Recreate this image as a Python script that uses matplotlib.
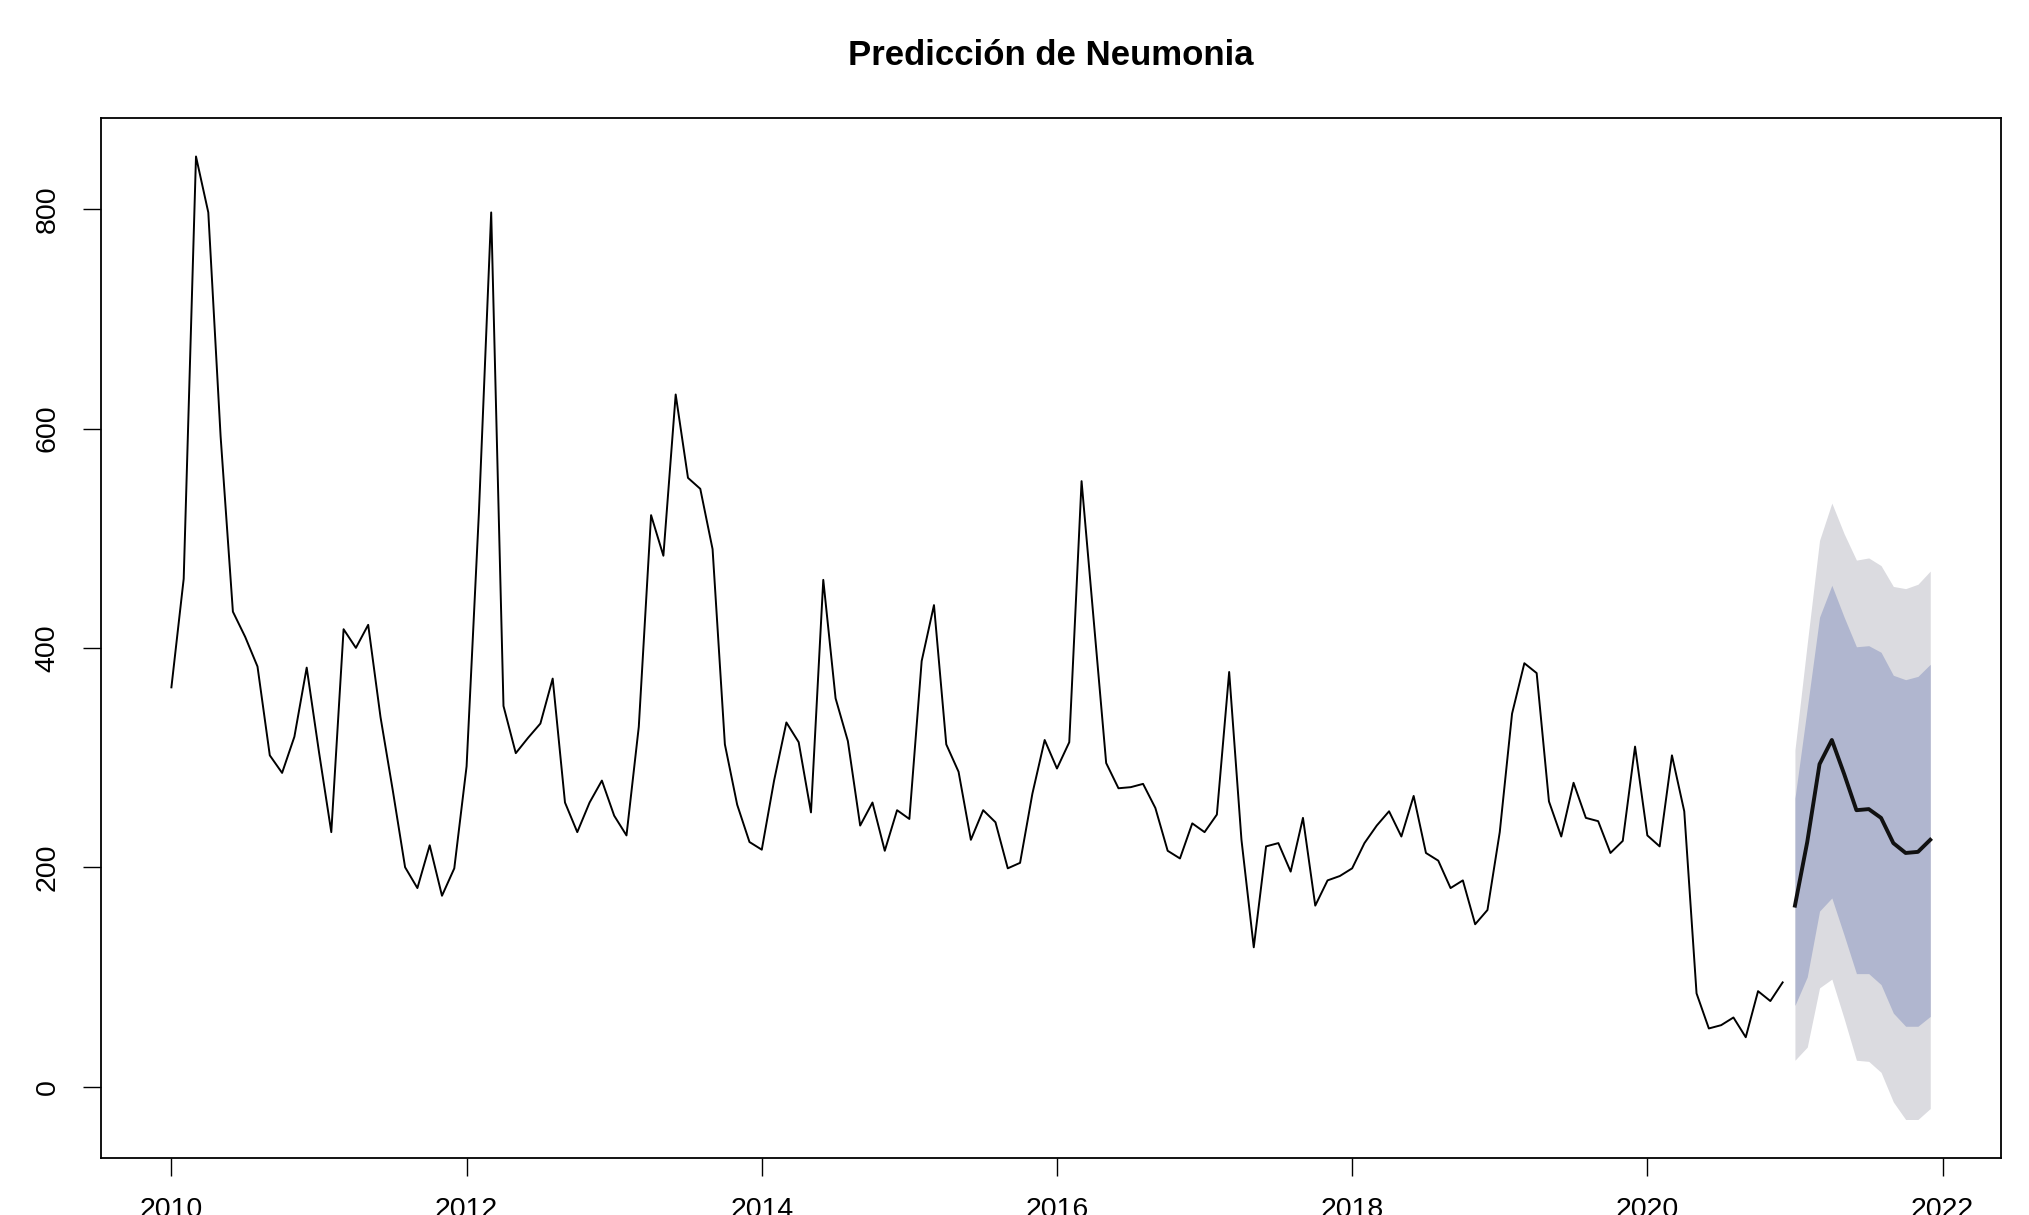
import numpy as np
import matplotlib
matplotlib.use("Agg")
import matplotlib.pyplot as plt

plt.rcParams['font.family'] = ['Liberation Sans', 'DejaVu Sans']

# Monthly observed series, Jan 2010 - Dec 2020
observed = [
    364, 463, 848, 797, 593, 433, 410, 383, 302, 286, 319, 382,
    305, 232, 417, 400, 421, 337, 270, 200, 181, 220, 174, 199,
    292, 523, 797, 347, 304, 318, 331, 372, 259, 232, 259, 279,
    247, 229, 328, 521, 484, 631, 555, 545, 490, 312, 257, 223,
    216, 279, 332, 314, 250, 462, 354, 315, 238, 259, 215, 252,
    244, 388, 439, 312, 287, 225, 252, 241, 199, 204, 267, 316,
    290, 314, 552, 424, 295, 272, 273, 276, 254, 215, 208, 240,
    232, 248, 378, 225, 127, 219, 222, 196, 245, 165, 188, 192,
    199, 222, 238, 251, 228, 265, 213, 206, 181, 188, 148, 161,
    232, 340, 386, 377, 260, 228, 277, 245, 242, 213, 224, 310,
    229, 219, 302, 251, 85, 53, 56, 63, 45, 87, 78, 95,
]

# Forecast Jan 2021 - Dec 2021
fc_mean = [165, 223, 294, 316, 285, 252, 253, 245, 222, 213, 214, 225]
lo80 = [74, 100, 160, 172, 138, 103, 103, 93, 67, 55, 55, 64]
hi80 = [263, 345, 428, 457, 428, 401, 402, 396, 375, 371, 374, 385]
lo95 = [24, 36, 90, 98, 62, 24, 23, 13, -14, -30, -30, -20]
hi95 = [307, 404, 498, 532, 504, 480, 482, 475, 456, 454, 458, 470]

t_obs = 2010 + np.arange(len(observed)) / 12
t_fc = 2021 + np.arange(len(fc_mean)) / 12

fig = plt.figure(figsize=(20.29, 12.15), dpi=100)
ax = fig.add_axes([0.0498, 0.0469, 0.9362, 0.856])

ax.fill_between(t_fc, lo95, hi95, color='#DBDBE0', linewidth=0)
ax.fill_between(t_fc, lo80, hi80, color='#B0B6CF', linewidth=0)
ax.plot(t_obs, observed, color='black', linewidth=1.4)
ax.plot(t_fc, fc_mean, color='#111111', linewidth=2.8)

ax.margins(x=0.04, y=0.04)

ax.set_xticks([2010, 2012, 2014, 2016, 2018, 2020, 2022])
ax.set_yticks([0, 200, 400, 600, 800])
ax.tick_params(axis='both', length=13, width=1.0, labelsize=20.5)
ax.tick_params(axis='y', pad=16)
ax.tick_params(axis='x', pad=15)
for lab in ax.get_yticklabels():
    lab.set_rotation(90)
    lab.set_va('center')

for s in ax.spines.values():
    s.set_linewidth(1.3)

ax.set_title('Predicción de Neumonia', fontsize=25, fontweight='bold', pad=38)

fig.savefig('out.png', dpi=100)
